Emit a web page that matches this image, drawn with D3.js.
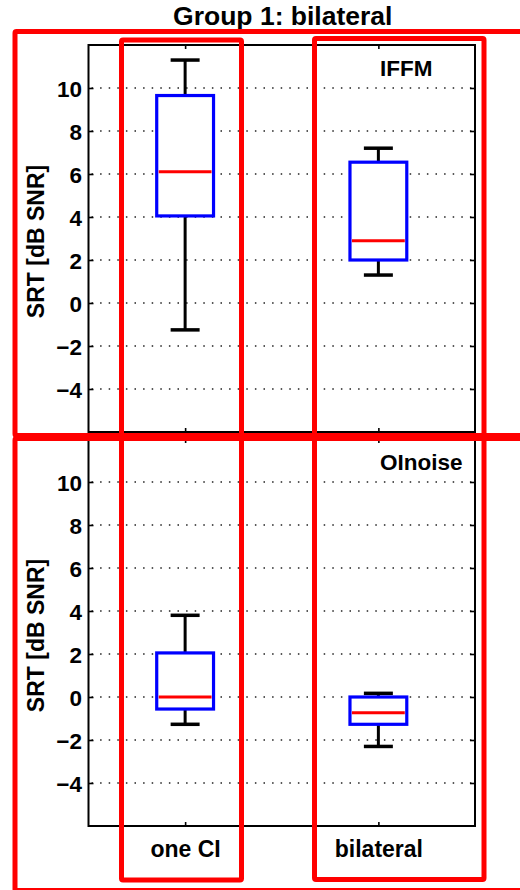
<!DOCTYPE html>
<html>
<head>
<meta charset="utf-8">
<script src="https://cdn.jsdelivr.net/npm/d3@7"></script>
<style>
  html, body { margin: 0; padding: 0; background: #fff; }
  svg { display: block; }
  text { font-family: "Liberation Sans", Arial, Helvetica, sans-serif; font-weight: bold; fill: #000; }
</style>
</head>
<body>
<svg id="chart" width="520" height="890"></svg>
<script>
// Speech reception thresholds, summarised per condition as
// [lower whisker, first quartile, median, third quartile, upper whisker]
const categories = ["one CI", "bilateral"];
const panelNames = ["IFFM", "OInoise"];
const iffmOneCI = [-1.25, 4.05, 6.1, 9.65, 11.3];
const iffmBilateral = [1.3, 2.0, 2.9, 6.55, 7.2];
const oinoiseOneCI = [-1.27, -0.56, 0.0, 2.05, 3.8];
const oinoiseBilateral = [-2.3, -1.27, -0.73, 0.0, 0.17];
const yTicks = [-4, -2, 0, 2, 4, 6, 8, 10];
const yDomain = [-6, 12];
const title = "Group 1: bilateral";
const yLabel = "SRT [dB SNR]";

const panels = [
  { name: panelNames[0], stats: [iffmOneCI, iffmBilateral], top: 45, bottom: 432 },
  { name: panelNames[1], stats: [oinoiseOneCI, oinoiseBilateral], top: 439, bottom: 826 }
];

const svg = d3.select("#chart");
const left = 88.5, right = 475;
const x = d3.scaleLinear().domain([0.5, categories.length + 0.5]).range([left, right]);
const boxHalf = 0.147, capHalf = 0.075;

svg.append("text")
  .attr("x", (left + right) / 2 + 1).attr("y", 25)
  .attr("text-anchor", "middle")
  .style("font-size", "26.5px")
  .text(title);

panels.forEach((p, pi) => {
  const y = d3.scaleLinear().domain(yDomain).range([p.bottom, p.top]);
  const g = svg.append("g");

  // dotted horizontal grid
  g.selectAll("line.grid").data(yTicks).join("line")
    .attr("class", "grid")
    .attr("x1", left + 3).attr("x2", right - 3)
    .attr("y1", d => y(d)).attr("y2", d => y(d))
    .attr("stroke", "#222").attr("stroke-width", 1.4)
    .attr("stroke-dasharray", "1.5,7.1");

  // axes with inward ticks on every side
  const axL = g.append("g").attr("transform", `translate(${left},0)`)
    .call(d3.axisLeft(y).tickValues(yTicks).tickSizeInner(-5).tickSizeOuter(0).tickPadding(6.5));
  const axR = g.append("g").attr("transform", `translate(${right},0)`)
    .call(d3.axisRight(y).tickValues(yTicks).tickSizeInner(-5).tickSizeOuter(0).tickFormat(""));
  const axB = g.append("g").attr("transform", `translate(0,${p.bottom})`)
    .call(d3.axisBottom(x).tickValues(categories.map((c, i) => i + 1)).tickSizeInner(-4).tickSizeOuter(0)
      .tickPadding(15).tickFormat((d, i) => pi === panels.length - 1 ? categories[i] : ""));
  const axT = g.append("g").attr("transform", `translate(0,${p.top})`)
    .call(d3.axisTop(x).tickValues(categories.map((c, i) => i + 1)).tickSizeInner(-4).tickSizeOuter(0).tickFormat(""));
  [axL, axR, axB, axT].forEach(a => {
    a.select(".domain").remove();
    a.selectAll(".tick line").attr("stroke", "#000").attr("stroke-width", 1.6);
  });
  axL.selectAll(".tick text").style("font-size", "22.5px").attr("dy", "0.36em");
  axB.selectAll(".tick text").style("font-size", "23px").attr("dy", "0.71em");

  g.append("rect")
    .attr("x", left).attr("y", p.top)
    .attr("width", right - left).attr("height", p.bottom - p.top)
    .attr("fill", "none").attr("stroke", "#000").attr("stroke-width", 2);

  // box plots
  p.stats.forEach((s, i) => {
    const cx = i + 1;
    const [lo, q1, med, q3, hi] = s;
    const bx = g.append("g");
    bx.append("line").attr("x1", x(cx)).attr("x2", x(cx)).attr("y1", y(q3)).attr("y2", y(hi))
      .attr("stroke", "#000").attr("stroke-width", 3);
    bx.append("line").attr("x1", x(cx)).attr("x2", x(cx)).attr("y1", y(q1)).attr("y2", y(lo))
      .attr("stroke", "#000").attr("stroke-width", 3);
    [lo, hi].forEach(v => {
      bx.append("line").attr("x1", x(cx - capHalf)).attr("x2", x(cx + capHalf))
        .attr("y1", y(v)).attr("y2", y(v))
        .attr("stroke", "#000").attr("stroke-width", 3.5);
    });
    bx.append("rect")
      .attr("x", x(cx - boxHalf)).attr("y", y(q3))
      .attr("width", x(cx + boxHalf) - x(cx - boxHalf)).attr("height", y(q1) - y(q3))
      .attr("fill", "#fff").attr("stroke", "#0000ff").attr("stroke-width", 3.2);
    bx.append("line").attr("x1", x(cx - boxHalf) + 2).attr("x2", x(cx + boxHalf) - 2)
      .attr("y1", y(med)).attr("y2", y(med))
      .attr("stroke", "#ff0000").attr("stroke-width", 3);
  });

  g.append("text")
    .attr("x", 380).attr("y", p.top + 31)
    .style("font-size", "22.5px")
    .text(p.name);

  g.append("text")
    .attr("transform", `translate(44,${(p.top + p.bottom) / 2 + 3}) rotate(-90)`)
    .attr("text-anchor", "middle")
    .style("font-size", "23px")
    .text(yLabel);
});

// red highlight frames drawn over the figure
const frames = [
  { x: 15, y: 31.5, w: 520, h: 404 },
  { x: 15, y: 438.5, w: 520, h: 452 },
  { x: 121.5, y: 40, w: 120, h: 840 },
  { x: 314.5, y: 38.5, w: 169.5, h: 841 }
];
svg.append("g").selectAll("rect").data(frames).join("rect")
  .attr("x", d => d.x).attr("y", d => d.y)
  .attr("width", d => d.w).attr("height", d => d.h)
  .attr("rx", 1.5)
  .attr("fill", "none").attr("stroke", "#ff0000").attr("stroke-width", 5)
  .attr("stroke-linejoin", "round");
</script>
</body>
</html>
